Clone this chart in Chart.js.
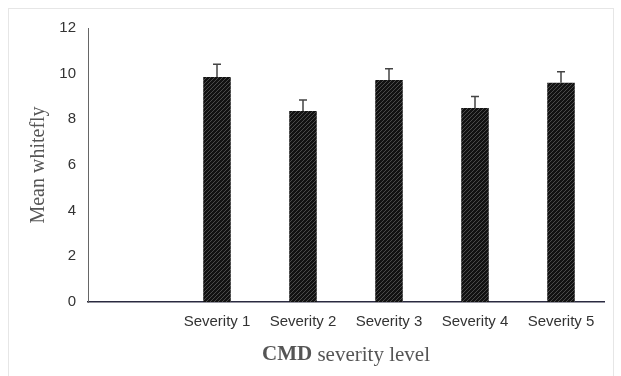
<!DOCTYPE html>
<html>
<head>
<meta charset="utf-8">
<script src="https://cdn.jsdelivr.net/npm/chart.js@4.4.1/dist/chart.umd.min.js"></script>
<style>
  html, body { margin: 0; padding: 0; background: #fff; }
  #wrap { position: relative; width: 621px; height: 376px; }
  #frame { position: absolute; left: 8px; top: 8px; width: 606px; height: 368px; border: 1px solid #e6e6e6; border-bottom: none; box-sizing: border-box; }
</style>
</head>
<body>
<div id="wrap">
  <div id="frame"></div>
  <canvas id="barChart" width="621" height="376" style="position:absolute;left:0;top:0;"></canvas>
</div>
<script>
// categories (first slot is left empty like in the original figure)
const categories = ['', 'Severity 1', 'Severity 2', 'Severity 3', 'Severity 4', 'Severity 5'];
const meanWhitefly = [null, 9.85, 8.37, 9.72, 8.5, 9.6];
const stdError = [null, 0.56, 0.48, 0.5, 0.5, 0.48];
const yTicks = [0, 2, 4, 6, 8, 10, 12];

// dark diagonal hatch like the printed bars
function makeHatch() {
    const c = document.createElement('canvas');
    c.width = 4; c.height = 4;
    const g = c.getContext('2d');
    g.fillStyle = '#121212';
    g.fillRect(0, 0, 4, 4);
    g.strokeStyle = '#4a4a4a';
    g.lineWidth = 1;
    g.beginPath();
    g.moveTo(0, 4); g.lineTo(4, 0);
    g.moveTo(-1, 1); g.lineTo(1, -1);
    g.moveTo(3, 5); g.lineTo(5, 3);
    g.stroke();
    return g.createPattern(c, 'repeat');
}

// error bars (upper half only)
const errorBars = {
    id: 'errorBars',
    afterDatasetsDraw(chart) {
        const { ctx, scales: { y } } = chart;
        const meta = chart.getDatasetMeta(0);
        ctx.save();
        ctx.strokeStyle = '#444';
        ctx.lineWidth = 1.5;
        meta.data.forEach((bar, i) => {
            if (meanWhitefly[i] == null) return;
            const top = y.getPixelForValue(meanWhitefly[i] + stdError[i]);
            ctx.beginPath();
            ctx.moveTo(bar.x, bar.y);
            ctx.lineTo(bar.x, top);
            ctx.moveTo(bar.x - 4, top);
            ctx.lineTo(bar.x + 4, top);
            ctx.stroke();
        });
        ctx.restore();
    }
};

// x title with bold "CMD"
const xTitle = {
    id: 'xTitle',
    afterDraw(chart) {
        const { ctx, chartArea } = chart;
        const a = 'CMD', b = ' severity level';
        ctx.save();
        ctx.fillStyle = '#555';
        ctx.textBaseline = 'middle';
        ctx.font = 'bold 21px "Liberation Serif", serif';
        const wa = ctx.measureText(a).width;
        ctx.font = '21px "Liberation Serif", serif';
        const wb = ctx.measureText(b).width;
        const x0 = (chartArea.left + chartArea.right) / 2 - (wa + wb) / 2;
        ctx.font = 'bold 21px "Liberation Serif", serif';
        ctx.fillText(a, x0, 355);
        ctx.font = '21px "Liberation Serif", serif';
        ctx.fillText(b, x0 + wa, 355);
        ctx.restore();
    }
};

const canvas = document.getElementById('barChart');
new Chart(canvas, {
    type: 'bar',
    data: {
        labels: categories,
        datasets: [{
            data: meanWhitefly,
            backgroundColor: makeHatch(),
            borderWidth: 0,
            categoryPercentage: 1,
            barPercentage: 0.32
        }]
    },
    options: {
        responsive: false,
        animation: false,
        layout: { padding: { left: 27, right: 17, top: 28, bottom: 0 } },
        plugins: {
            legend: { display: false },
            tooltip: { enabled: false }
        },
        scales: {
            x: {
                grid: { display: false, drawTicks: false },
                border: { display: true, color: '#2a2a40', width: 1.5 },
                ticks: {
                    color: '#333',
                    padding: 11,
                    maxRotation: 0,
                    autoSkip: false,
                    font: { family: '"Liberation Sans", Arial, sans-serif', size: 15 }
                },
                afterFit(scale) { scale.height = 74; }
            },
            y: {
                min: 0,
                max: 12,
                afterBuildTicks(scale) { scale.ticks = yTicks.map(v => ({ value: v })); },
                grid: { display: false, drawTicks: false },
                border: { display: true, color: '#666', width: 1 },
                ticks: {
                    color: '#333',
                    padding: 12,
                    font: { family: '"Liberation Sans", Arial, sans-serif', size: 15 }
                },
                title: {
                    display: true,
                    text: 'Mean whitefly',
                    color: '#555',
                    padding: 0,
                    font: { family: '"Liberation Serif", serif', size: 20 }
                },
                afterFit(scale) { scale.width = 61; }
            }
        }
    },
    plugins: [errorBars, xTitle]
});
</script>
</body>
</html>
